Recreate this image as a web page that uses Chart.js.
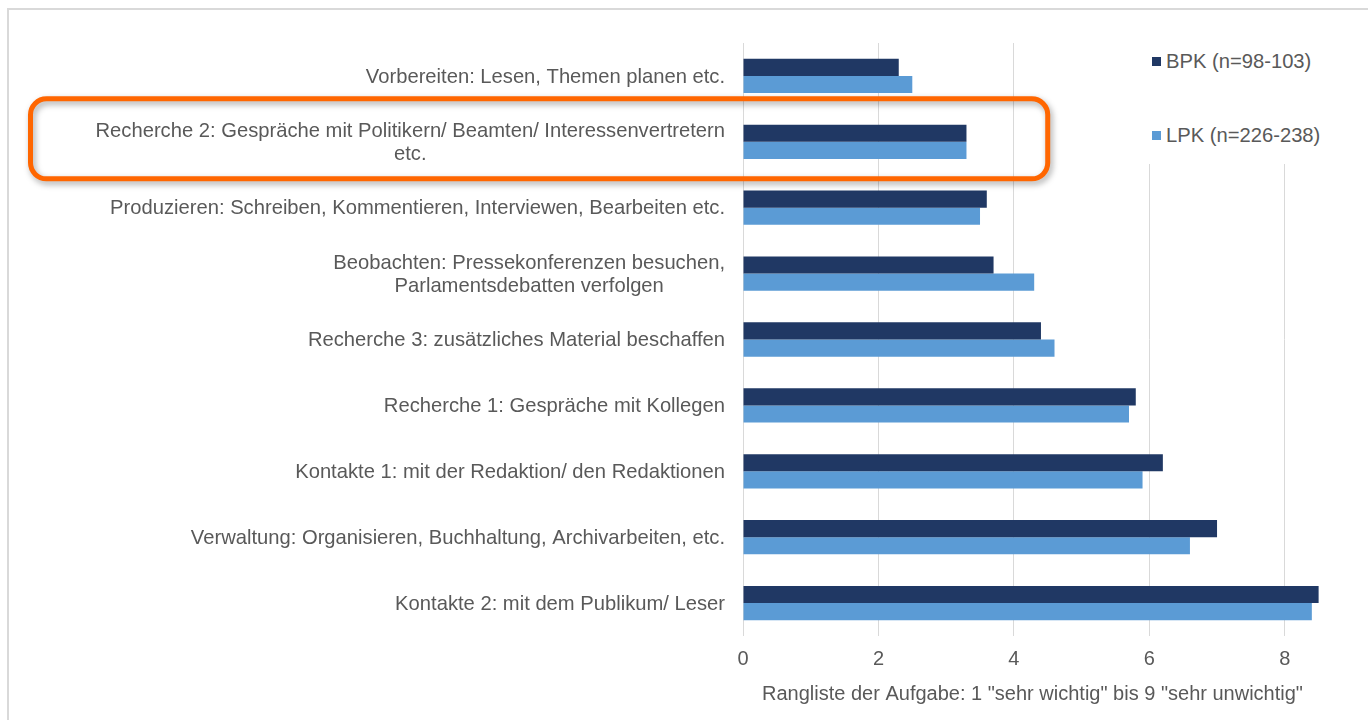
<!DOCTYPE html>
<html><head><meta charset="utf-8">
<script src="https://cdn.jsdelivr.net/npm/chart.js@4"></script>
<style>
html,body{margin:0;padding:0;background:#fff;}
#wrap{position:relative;width:1368px;height:720px;overflow:hidden;background:#fff;}
#frame{position:absolute;left:7px;top:8px;width:1400px;height:800px;border-left:2px solid #d9d9d9;border-top:2px solid #d9d9d9;box-sizing:border-box;}
#c{position:absolute;left:0;top:0;}
#legend{position:absolute;left:1142px;top:40px;width:195px;height:124px;background:#fff;font:20.2px "Liberation Sans",Arial,sans-serif;color:#595959;}
.item{position:absolute;left:10px;display:flex;align-items:center;white-space:nowrap;height:24px;}
.sw{width:9px;height:9px;margin-right:5px;}
</style>
</head><body>
<div id="wrap">
<div id="frame"></div>
<canvas id="c" width="1368" height="720"></canvas>
<div id="legend"></div>
</div>
<script>
const categories = [
  ["Vorbereiten: Lesen, Themen planen etc."],
  ["Recherche 2: Gespräche mit Politikern/ Beamten/ Interessenvertretern", "etc."],
  ["Produzieren: Schreiben, Kommentieren, Interviewen, Bearbeiten etc."],
  ["Beobachten: Pressekonferenzen besuchen,", "Parlamentsdebatten verfolgen"],
  ["Recherche 3: zusätzliches Material beschaffen"],
  ["Recherche 1: Gespräche mit Kollegen"],
  ["Kontakte 1: mit der Redaktion/ den Redaktionen"],
  ["Verwaltung: Organisieren, Buchhaltung, Archivarbeiten, etc."],
  ["Kontakte 2: mit dem Publikum/ Leser"]
];
const seriesNames = ["BPK (n=98-103)", "LPK (n=226-238)"];
const bpkValues = [2.3, 3.3, 3.6, 3.7, 4.4, 5.8, 6.2, 7.0, 8.5];
const lpkValues = [2.5, 3.3, 3.5, 4.3, 4.6, 5.7, 5.9, 6.6, 8.4];
const xTickValues = [0, 2, 4, 6, 8];
const axisTitle = 'Rangliste der Aufgabe: 1 "sehr wichtig" bis 9 "sehr unwichtig"';
const highlightIndex = 1;
const colors = ["#203864", "#5B9BD5"];

const FONT = '"Liberation Sans", Arial, sans-serif';
const TEXT = '#595959';

// legend (HTML, real text)
const lg = document.getElementById('legend');
seriesNames.forEach((n, i) => {
  const d = document.createElement('div');
  d.className = 'item';
  d.style.top = (9 + i * 74) + 'px';
  d.innerHTML = '<span class="sw" style="background:' + colors[i] + '"></span><span>' + n + '</span>';
  lg.appendChild(d);
});

const labelPlugin = {
  id: 'catLabels',
  afterDraw(chart) {
    const ctx = chart.ctx, ys = chart.scales.y, ca = chart.chartArea;
    ctx.save();
    ctx.font = '20.2px ' + FONT;
    ctx.fillStyle = TEXT;
    ctx.textAlign = 'center';
    ctx.textBaseline = 'middle';
    const lh = 23;
    categories.forEach((lines, i) => {
      const y = ys.getPixelForValue(i);
      const w = Math.max(...lines.map(l => ctx.measureText(l).width));
      const cx = ca.left - 18 - w / 2;
      lines.forEach((l, j) => {
        ctx.fillText(l, cx, y + (j - (lines.length - 1) / 2) * lh + 1);
      });
    });
    ctx.restore();
  }
};

const boxPlugin = {
  id: 'highlightBox',
  afterDraw(chart) {
    const ctx = chart.ctx, ys = chart.scales.y, xs = chart.scales.x, ca = chart.chartArea;
    const yc = ys.getPixelForValue(highlightIndex);
    const x0 = ca.left - 712.5, x1 = xs.getPixelForValue(4.5);
    const y0 = yc - 43, y1 = yc + 37;
    ctx.save();
    ctx.shadowColor = 'rgba(0,0,0,0.35)';
    ctx.shadowBlur = 6;
    ctx.shadowOffsetX = 2;
    ctx.shadowOffsetY = 3;
    ctx.strokeStyle = '#FF6600';
    ctx.lineWidth = 5;
    ctx.beginPath();
    ctx.roundRect(x0, y0, x1 - x0, y1 - y0, 16);
    ctx.stroke();
    ctx.restore();
  }
};

new Chart(document.getElementById('c'), {
  type: 'bar',
  data: {
    labels: categories,
    datasets: [
      { label: seriesNames[0], data: bpkValues, backgroundColor: colors[0], categoryPercentage: 0.52, barPercentage: 1 },
      { label: seriesNames[1], data: lpkValues, backgroundColor: colors[1], categoryPercentage: 0.52, barPercentage: 1 }
    ]
  },
  options: {
    indexAxis: 'y',
    responsive: false,
    animation: false,
    events: [],
    layout: { padding: { left: 743, right: 46, top: 43, bottom: 14 } },
    plugins: { legend: { display: false }, tooltip: { enabled: false } },
    scales: {
      y: { display: false },
      x: {
        min: 0, max: 8.55,
        afterBuildTicks: axis => { axis.ticks = xTickValues.map(v => ({ value: v })); },
        grid: { color: '#d9d9d9', lineWidth: 1, drawTicks: false },
        border: { display: false },
        ticks: { padding: 11, color: TEXT, font: { family: FONT, size: 20 } },
        title: { display: true, text: axisTitle, color: TEXT, font: { family: FONT, size: 20 }, padding: { top: 0, bottom: 0 } }
      }
    }
  },
  plugins: [labelPlugin, boxPlugin]
});
</script>
</body></html>
